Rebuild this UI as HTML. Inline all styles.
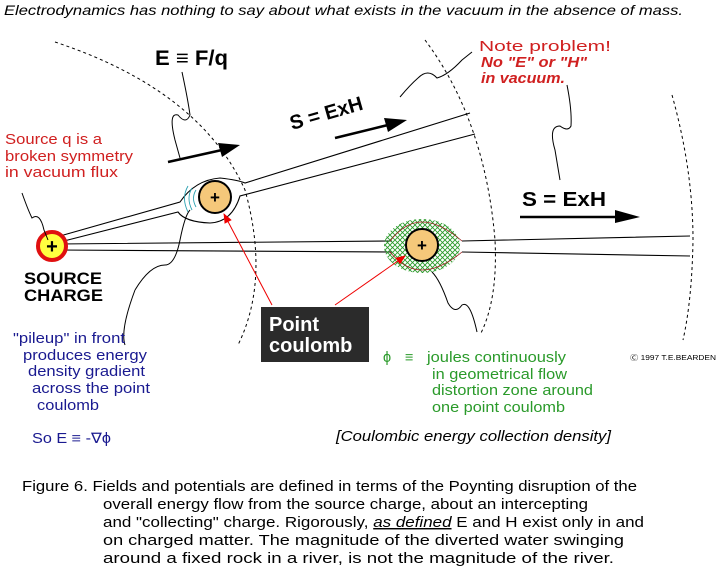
<!DOCTYPE html>
<html><head><meta charset="utf-8"><style>
body{margin:0;background:#fff;}
svg{display:block;font-family:"Liberation Sans",sans-serif;}
</style></head><body>
<svg width="717" height="569" viewBox="0 0 717 569" xmlns="http://www.w3.org/2000/svg">
<defs>
<pattern id="hatch" width="5" height="5" patternUnits="userSpaceOnUse">
<path d="M0 0L5 5M5 0L0 5" stroke="#2a9a2a" stroke-width="0.9"/>
</pattern>
<marker id="ra" markerWidth="10" markerHeight="8" refX="9" refY="4" orient="auto" markerUnits="userSpaceOnUse"><path d="M0 0L10 4L0 8Z" fill="#e00"/></marker>
</defs>
<text x="4" y="15" font-size="14" font-style="italic" textLength="679" lengthAdjust="spacingAndGlyphs">Electrodynamics has nothing to say about what exists in the vacuum in the absence of mass.</text>

<g fill="none" stroke="#000" stroke-width="1" stroke-dasharray="3,3">
<path d="M55 42 Q200 90 245 190 Q270 280 238 345"/>
<path d="M425 40 Q485 120 495 240 Q498 300 480 335"/>
<path d="M672 95 Q693 170 693 240 Q692 300 683 340"/>
</g>

<g fill="none" stroke="#000" stroke-width="1.1">
<path d="M60 236 L180 202 Q195 180 220 178 Q238 180 245 183 L470 113"/>
<path d="M60 242 L178 212 Q185 222 210 223 Q232 222 240 196 L475 134"/>
<path d="M58 244 L392 241 M462 241 L690 236"/>
<path d="M58 250 L392 252 M462 252 L690 256"/>
</g>

<ellipse cx="422" cy="246" rx="38" ry="27" fill="url(#hatch)"/>
<path d="M390 241 Q405 222 422 222 Q440 222 462 241 M390 252 Q405 270 422 270 Q440 270 462 252" fill="none" stroke="#a02020" stroke-width="0.8"/>

<g fill="none" stroke="#2aa0b0" stroke-width="0.9">
<path d="M192 188 Q186 198 192 210"/><path d="M188 186 Q181 198 188 212"/><path d="M196 190 Q191 198 196 207"/>
</g>

<circle cx="52" cy="246" r="14" fill="#ffff40" stroke="#e01010" stroke-width="4"/>
<text x="52" y="253" font-size="20" font-weight="bold" text-anchor="middle">+</text>
<circle cx="215" cy="197" r="16" fill="#f5c87a" stroke="#000" stroke-width="2"/>
<text x="215" y="203" font-size="17" font-weight="bold" text-anchor="middle">+</text>
<circle cx="422" cy="245" r="16" fill="#f5c87a" stroke="#000" stroke-width="2"/>
<text x="422" y="251" font-size="17" font-weight="bold" text-anchor="middle">+</text>

<g fill="none" stroke="#000" stroke-width="1">
<path d="M182 72 Q188 100 190 115 Q186 125 178 115 Q168 112 175 140 L180 158"/>
<path d="M22 193 Q28 210 32 218 Q40 212 44 230 L48 240"/>
<path d="M135 290 Q150 265 165 265 Q175 265 180 240 Q185 215 190 210"/>
<path d="M135 290 Q120 330 125 345"/>
<path d="M400 97 Q410 85 418 78 Q428 68 437 78 Q448 75 462 60 L472 52"/>
<path d="M567 85 Q572 110 571 126 Q568 132 560 126 Q548 126 555 150 L560 180"/>
<path d="M477 332 Q470 300 462 305 Q455 315 448 303 Q440 280 432 272"/>
</g>

<g stroke="#000" stroke-width="2.5" fill="#000">
<line x1="168" y1="162" x2="222" y2="150"/><path d="M218 143 L240 145 L222 157Z" stroke="none"/>
<line x1="335" y1="138" x2="388" y2="125"/><path d="M384 118 L407 120 L388 132Z" stroke="none"/>
<line x1="520" y1="217" x2="615" y2="217"/><path d="M615 210 L640 217 L615 223Z" stroke="none"/>
</g>

<g stroke="#e00" stroke-width="1" fill="none">
<line x1="272" y1="305" x2="224" y2="214" marker-end="url(#ra)"/>
<line x1="335" y1="305" x2="405" y2="256" marker-end="url(#ra)"/>
</g>

<text x="155" y="65" font-size="21" font-weight="bold" textLength="73" lengthAdjust="spacingAndGlyphs">E ≡ F/q</text>
<text transform="translate(292,130) rotate(-16)" font-size="20" font-weight="bold">S = ExH</text>
<text x="522" y="206" font-size="20" font-weight="bold" textLength="84" lengthAdjust="spacingAndGlyphs">S = ExH</text>
<g fill="#d02020" font-size="14.5" lengthAdjust="spacingAndGlyphs">
<text x="479" y="51" textLength="132" lengthAdjust="spacingAndGlyphs">Note problem!</text>
<text x="481" y="67" font-weight="bold" font-style="italic" textLength="106" lengthAdjust="spacingAndGlyphs">No "E" or "H"</text>
<text x="481" y="83" font-weight="bold" font-style="italic" textLength="84" lengthAdjust="spacingAndGlyphs">in vacuum.</text>
<text x="5" y="144" textLength="97" lengthAdjust="spacingAndGlyphs">Source q is a</text>
<text x="5" y="161" textLength="128" lengthAdjust="spacingAndGlyphs">broken symmetry</text>
<text x="5" y="177" textLength="113" lengthAdjust="spacingAndGlyphs">in vacuum flux</text>
</g>
<text x="24" y="284" font-size="17" font-weight="bold" textLength="78" lengthAdjust="spacingAndGlyphs">SOURCE</text>
<text x="24" y="301" font-size="17" font-weight="bold" textLength="79" lengthAdjust="spacingAndGlyphs">CHARGE</text>

<rect x="261" y="307" width="108" height="55" fill="#2b2b2b"/>
<text x="269" y="331" font-size="20" font-weight="bold" fill="#fff">Point</text>
<text x="269" y="352" font-size="20" font-weight="bold" fill="#fff">coulomb</text>

<g fill="#1a1a90" font-size="14.5">
<text x="13" y="343" textLength="112" lengthAdjust="spacingAndGlyphs">"pileup" in front</text>
<text x="23" y="360" textLength="124" lengthAdjust="spacingAndGlyphs">produces energy</text>
<text x="28" y="376" textLength="117" lengthAdjust="spacingAndGlyphs">density gradient</text>
<text x="32" y="393" textLength="118" lengthAdjust="spacingAndGlyphs">across the point</text>
<text x="37" y="410" textLength="62" lengthAdjust="spacingAndGlyphs">coulomb</text>
<text x="32" y="443" textLength="79" lengthAdjust="spacingAndGlyphs">So E ≡ -∇ϕ</text>
</g>
<g fill="#2a9a2a" font-size="14.5">
<text x="383" y="362">ϕ</text>
<text x="405" y="362">≡</text>
<text x="427" y="362" textLength="139" lengthAdjust="spacingAndGlyphs">joules continuously</text>
<text x="432" y="379" textLength="135" lengthAdjust="spacingAndGlyphs">in geometrical flow</text>
<text x="432" y="395" textLength="161" lengthAdjust="spacingAndGlyphs">distortion zone around</text>
<text x="432" y="412" textLength="133" lengthAdjust="spacingAndGlyphs">one point coulomb</text>
</g>
<text x="630" y="360" font-size="7" textLength="86" lengthAdjust="spacingAndGlyphs">Ⓒ 1997 T.E.BEARDEN</text>
<text x="336" y="441" font-size="14.5" font-style="italic" textLength="275" lengthAdjust="spacingAndGlyphs">[Coulombic energy collection density]</text>

<g font-size="14.5">
<text x="22" y="491" textLength="615" lengthAdjust="spacingAndGlyphs">Figure 6.  Fields and potentials are defined in terms of the Poynting disruption of the</text>
<text x="103" y="509" textLength="485" lengthAdjust="spacingAndGlyphs">overall energy flow from the source charge, about an intercepting</text>
<text x="103" y="527" textLength="541" lengthAdjust="spacingAndGlyphs">and "collecting" charge.  Rigorously,  <tspan text-decoration="underline" font-style="italic">as defined</tspan>  E and H exist only in and</text>
<text x="103" y="545" textLength="521" lengthAdjust="spacingAndGlyphs">on charged matter.  The magnitude of the diverted water swinging</text>
<text x="103" y="563" textLength="511" lengthAdjust="spacingAndGlyphs">around a fixed rock in a river, is not the magnitude of the river.</text>
</g>
</svg>
</body></html>
